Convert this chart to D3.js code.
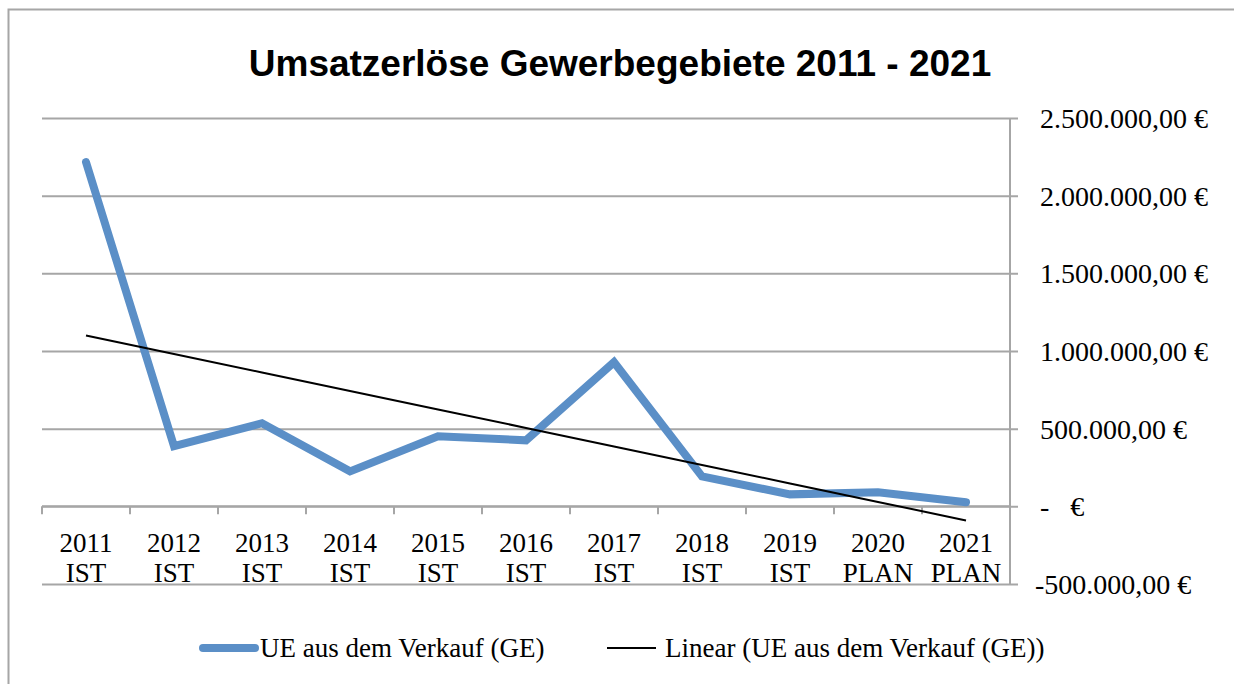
<!DOCTYPE html>
<html>
<head>
<meta charset="utf-8">
<script src="https://cdn.jsdelivr.net/npm/d3@7"></script>
<style>
  body { margin: 0; background: #fff; }
  svg text { fill: #000; white-space: pre; }
</style>
</head>
<body>
<main></main>
<script>
const years = ['2011','2012','2013','2014','2015','2016','2017','2018','2019','2020','2021']
const kinds = ['IST','IST','IST','IST','IST','IST','IST','IST','IST','PLAN','PLAN']
const sales = [2216000, 387000, 535000, 225000, 451000, 425000, 928000, 193000, 77000, 90000, 26000]
const yTicks = [-500000, 0, 500000, 1000000, 1500000, 2000000, 2500000]

const size = { width: 1234, height: 684 }
const plot = { left: 42, right: 1010, top: 118, bottom: 584 }
const serif = "'Liberation Serif', serif"

const svg = d3.select('main')
    .append('svg')
    .attr('width', size.width)
    .attr('height', size.height)

// frame of the chart object
svg.append('rect')
    .attr('x', 8.5).attr('y', 9.5)
    .attr('width', 1240).attr('height', 700)
    .attr('fill', 'none')
    .attr('stroke', '#a6a6a6')
    .attr('stroke-width', 2)

svg.append('text')
    .attr('x', 620).attr('y', 76)
    .attr('text-anchor', 'middle')
    .style('font-family', "'Liberation Sans', Arial, sans-serif")
    .style('font-weight', 'bold')
    .style('font-size', '37px')
    .text('Umsatzerlöse Gewerbegebiete 2011 - 2021')

const x = d3.scaleBand().domain(years).range([plot.left, plot.right])
const y = d3.scaleLinear().domain([-500000, 2500000]).range([plot.bottom, plot.top])

const euro = d3.formatLocale({ decimal: ',', thousands: '.', grouping: [3], currency: ['', ' €'], minus: '-' })
    .format('$,.2f')
const fmt = v => v === 0 ? '-   €' : euro(v)

// gridlines + right value axis
const yAxis = svg.append('g')
    .attr('transform', `translate(${plot.right},0)`)
    .call(d3.axisRight(y).tickValues(yTicks).tickSize(8).tickFormat(fmt))
yAxis.select('.domain').attr('stroke', '#a6a6a6').attr('stroke-width', 2)
    .attr('d', `M0,${plot.top}V${plot.bottom}`)
yAxis.selectAll('.tick line')
    .attr('x1', plot.left - plot.right).attr('x2', 8)
    .attr('stroke', '#a6a6a6').attr('stroke-width', 2)
yAxis.selectAll('.tick text')
    .style('font-family', serif).style('font-size', '28px')
    .attr('dy', '0.34em')
    .attr('x', d => d < 0 ? 25 : 30)

// category axis at zero
const xAxis = svg.append('g')
    .attr('transform', `translate(0,${y(0)})`)
xAxis.append('line')
    .attr('x1', plot.left).attr('x2', plot.right)
    .attr('stroke', '#a6a6a6').attr('stroke-width', 2)
xAxis.selectAll('.tk')
    .data(years)
    .enter().append('line')
    .attr('x1', d => x(d)).attr('x2', d => x(d))
    .attr('y1', 0).attr('y2', 8)
    .attr('stroke', '#a6a6a6').attr('stroke-width', 2)

const cx = d => x(d) + x.bandwidth() / 2

const labels = svg.append('g')
    .selectAll('text')
    .data(years)
    .enter().append('text')
    .attr('text-anchor', 'middle')
    .style('font-family', serif).style('font-size', '27px')
labels.append('tspan')
    .attr('x', cx).attr('y', 552)
    .text(d => d)
labels.append('tspan')
    .attr('x', cx).attr('y', 582)
    .text((d, i) => kinds[i])

svg.append('path')
    .datum(sales)
    .attr('fill', 'none')
    .attr('stroke', '#5b8fc7')
    .attr('stroke-width', 8)
    .attr('stroke-linecap', 'round')
    .attr('d', d3.line().x((d, i) => cx(years[i])).y(d => y(d)))

// least squares trend
const idx = d3.range(1, sales.length + 1)
const mx = d3.mean(idx), my = d3.mean(sales)
const slope = d3.sum(idx, (k, i) => (k - mx) * (sales[i] - my)) / d3.sum(idx, k => (k - mx) ** 2)
const trend = idx.map(k => my + slope * (k - mx))

svg.append('path')
    .datum(trend)
    .attr('fill', 'none')
    .attr('stroke', '#000')
    .attr('stroke-width', 2)
    .attr('d', d3.line().x((d, i) => cx(years[i])).y(d => y(d)))

// legend
const legend = svg.append('g').attr('transform', 'translate(0,648)')
legend.append('line')
    .attr('x1', 203).attr('x2', 255)
    .attr('stroke', '#5b8fc7').attr('stroke-width', 8).attr('stroke-linecap', 'round')
legend.append('text')
    .attr('x', 260).attr('dy', '0.34em')
    .style('font-family', serif).style('font-size', '27px')
    .text('UE aus dem Verkauf (GE)')
legend.append('line')
    .attr('x1', 607).attr('x2', 656)
    .attr('stroke', '#000').attr('stroke-width', 2)
legend.append('text')
    .attr('x', 665).attr('dy', '0.34em')
    .style('font-family', serif).style('font-size', '27px')
    .text('Linear (UE aus dem Verkauf (GE))')
</script>
</body>
</html>
